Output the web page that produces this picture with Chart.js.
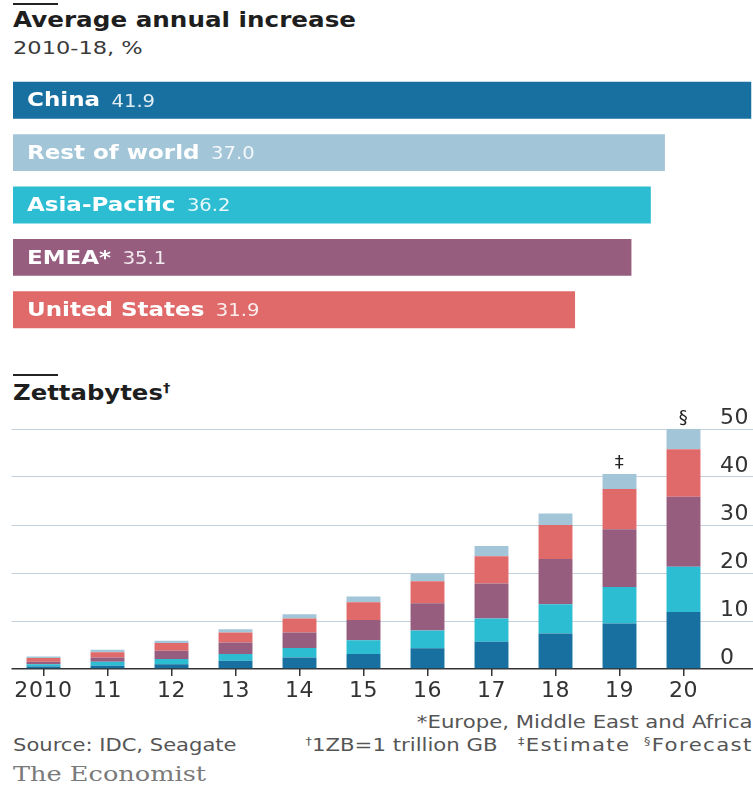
<!DOCTYPE html>
<html><head><meta charset="utf-8">
<script src="https://cdn.jsdelivr.net/npm/chart.js@4.4.1/dist/chart.umd.min.js"></script>
<style>
body{margin:0;width:753px;height:786px;position:relative;background:#fff;overflow:hidden;font-family:"DejaVu Sans",sans-serif;}
.rule{position:absolute;left:13px;width:45px;height:2px;background:#222;}
.t{position:absolute;white-space:nowrap;line-height:1;transform-origin:left center;}
.r{transform-origin:right center;}
.ls{letter-spacing:1.1px;}
canvas{position:absolute;left:0;}
sup{font-size:0.6em;vertical-align:0.6em;line-height:0;}
</style></head><body>
<div class="rule" style="top:3px"></div>
<div class="t" style="left:13px;top:9px;font-weight:bold;font-size:22px;color:#1e1e1e;transform:scaleX(1.12)">Average annual increase</div>
<div class="t" style="left:13px;top:39px;font-size:18px;color:#3a3a3a;transform:scaleX(1.25)">2010-18, %</div>
<canvas id="top" width="753" height="350" style="top:0"></canvas>
<div class="rule" style="top:374px"></div>
<div class="t" style="left:13px;top:383px;font-weight:bold;font-size:21px;color:#1e1e1e;transform:scaleX(1.16)">Zettabytes<sup>†</sup></div>
<canvas id="bot" width="753" height="330" style="top:380px"></canvas>
<div class="t r" style="right:0;top:714px;font-size:17px;color:#555;transform:scaleX(1.25)">*Europe, Middle East and Africa</div>
<div class="t" style="left:13px;top:737px;font-size:17px;color:#555;transform:scaleX(1.24)">Source: IDC, Seagate</div>
<div class="t r" style="right:0;top:737px;font-size:17px;color:#555;transform:scaleX(1.25)"><sup>†</sup>1ZB=1 trillion GB&nbsp;&nbsp;&nbsp;<span class="ls"><sup>‡</sup>Estimate</span>&nbsp;&nbsp;<span class="ls"><sup>§</sup>Forecast</span></div>
<div class="t" style="left:13px;top:764px;font-size:20px;color:#7a7a7a;font-family:'DejaVu Serif',serif;transform:scaleX(1.28)">The Economist</div>
<script>
// ---- data ----
const regions = ['China', 'Rest of world', 'Asia-Pacific', 'EMEA*', 'United States'];
const avgIncrease = [41.9, 37.0, 36.2, 35.1, 31.9];

const years = ['2010', '11', '12', '13', '14', '15', '16', '17', '18', '19', '20'];
const chinaZB   = [0.5, 0.7, 1.0, 1.7, 2.4, 3.1, 4.3, 5.7, 7.4, 9.5, 11.9];
const asiaPacZB = [0.5, 0.8, 1.1, 1.4, 2.0, 2.9, 3.7, 4.8, 6.1, 7.6, 9.4];
const emeaZB    = [0.5, 0.9, 1.7, 2.4, 3.2, 4.2, 5.7, 7.3, 9.4, 12.0, 14.6];
const usZB      = [0.8, 1.1, 1.6, 2.1, 2.9, 3.7, 4.6, 5.7, 7.1, 8.4, 9.9];
const restZB    = [0.3, 0.5, 0.5, 0.7, 0.9, 1.2, 1.6, 2.1, 2.4, 3.1, 4.2];
const yearNotes = ['', '', '', '', '', '', '', '', '', '‡', '§'];
const yTicks = [0, 10, 20, 30, 40, 50];

// ---- styles ----
const C = {china:'#17709f', rest:'#a2c6d8', asia:'#2cbdd2', emea:'#975d7f', us:'#e06a6a'};
const regionColors = [C.china, C.rest, C.asia, C.emea, C.us];
const FONT = '"DejaVu Sans", sans-serif';
const SX = 1.15; // horizontal text stretch

// ---- top chart ----
const barLabels = {
  id: 'barLabels',
  afterDatasetsDraw(chart) {
    const ctx = chart.ctx;
    const meta = chart.getDatasetMeta(0);
    meta.data.forEach((bar, i) => {
      ctx.save();
      ctx.translate(chart.chartArea.left + 14, bar.y);
      ctx.scale(SX, 1);
      ctx.textBaseline = 'middle';
      ctx.font = 'bold 20px ' + FONT;
      ctx.fillStyle = '#ffffff';
      ctx.fillText(regions[i], 0, 1);
      const w = ctx.measureText(regions[i]).width;
      ctx.font = '17px ' + FONT;
      ctx.fillStyle = 'rgba(255,255,255,0.88)';
      ctx.fillText(avgIncrease[i].toFixed(1), w + 10, 2);
      ctx.restore();
    });
  }
};
new Chart(document.getElementById('top'), {
  type: 'bar',
  data: { labels: regions, datasets: [{ data: avgIncrease, backgroundColor: regionColors, borderWidth: 0 }] },
  options: {
    indexAxis: 'y', responsive: false, animation: false,
    layout: { padding: { left: 13, right: 0, top: 74, bottom: 14 } },
    plugins: { legend: { display: false }, tooltip: { enabled: false } },
    datasets: { bar: { categoryPercentage: 1, barPercentage: 0.705 } },
    scales: { x: { display: false, min: 0, max: 42 }, y: { display: false } }
  },
  plugins: [barLabels]
});

// ---- bottom chart ----
const spacing = {
  id: 'spacing',
  beforeDraw(chart) { chart.ctx.letterSpacing = '0.6px'; }
};
const notesPlugin = {
  id: 'notes',
  afterDatasetsDraw(chart) {
    const ctx = chart.ctx;
    const last = chart.getDatasetMeta(chart.data.datasets.length - 1);
    ctx.save();
    ctx.font = '18px ' + FONT;
    ctx.fillStyle = '#222';
    ctx.textAlign = 'center';
    ctx.textBaseline = 'middle';
    last.data.forEach((bar, i) => { if (yearNotes[i]) ctx.fillText(yearNotes[i], bar.x, bar.y - 11); });
    ctx.restore();
  }
};
new Chart(document.getElementById('bot'), {
  type: 'bar',
  data: {
    labels: years,
    datasets: [
      { label: 'China', data: chinaZB, backgroundColor: C.china },
      { label: 'Asia-Pacific', data: asiaPacZB, backgroundColor: C.asia },
      { label: 'EMEA', data: emeaZB, backgroundColor: C.emea },
      { label: 'United States', data: usZB, backgroundColor: C.us },
      { label: 'Rest of world', data: restZB, backgroundColor: C.rest }
    ]
  },
  options: {
    responsive: false, animation: false,
    layout: { padding: { left: 11.5, right: 0, top: 49, bottom: 0 } },
    plugins: { legend: { display: false }, tooltip: { enabled: false } },
    datasets: { bar: { categoryPercentage: 1, barPercentage: 0.53, borderWidth: 0 } },
    scales: {
      x: {
        stacked: true,
        grid: { display: true, offset: false, drawOnChartArea: false, drawTicks: true, tickLength: 7, color: '#333', lineWidth: 1.5 },
        border: { display: false },
        ticks: { font: { family: FONT, size: 22 }, color: '#333', padding: 2, maxRotation: 0, autoSkip: false },
        afterFit(s) { s.height = 41; }
      },
      y: {
        stacked: true, position: 'right', min: 0, max: 50,
        afterBuildTicks(s) { s.ticks = yTicks.map(v => ({ value: v })); },
        grid: {
          color: c => (c.tick && c.tick.value === 0 ? '#333' : '#c4d0d9'),
          lineWidth: c => (c.tick && c.tick.value === 0 ? 1.5 : 1),
          drawTicks: true, tickLength: 37.5
        },
        border: { display: false },
        ticks: { font: { family: FONT, size: 22 }, color: '#333', padding: -33, labelOffset: -11 },
        afterFit(s) { s.width = 37.5; }
      }
    }
  },
  plugins: [spacing, notesPlugin]
});
</script>
</body></html>
